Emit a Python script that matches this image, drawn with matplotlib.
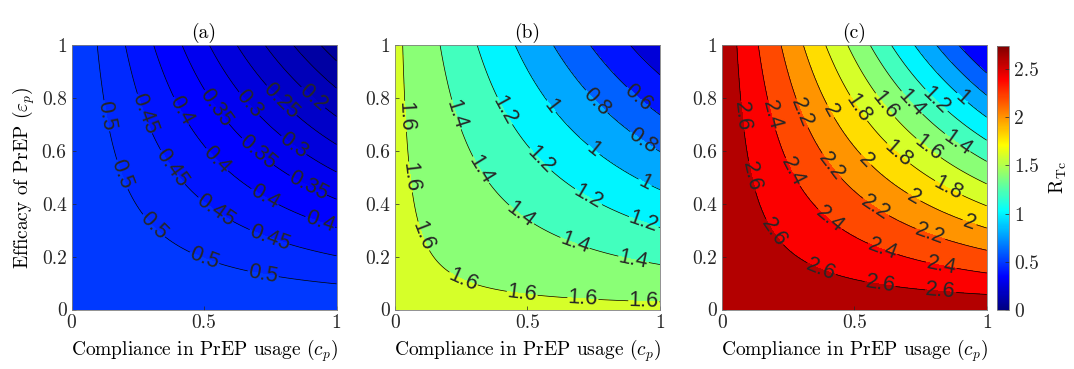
import numpy as np
import matplotlib
matplotlib.use("Agg")
import matplotlib.pyplot as plt
from matplotlib.colors import LinearSegmentedColormap, Normalize
from matplotlib.cm import ScalarMappable

# R_Tc contour values and the product c_p * eps_p at which each contour
# crosses the top edge (eps_p = 1); first/last entries
# are the corner values at c_p*eps_p = 0 and 1
prod_a = [0.0, 0.097, 0.203, 0.31, 0.417, 0.52, 0.624, 0.73, 0.837, 0.94, 1.0]
rtc_a = [0.546, 0.5, 0.45, 0.4, 0.35, 0.3, 0.25, 0.2, 0.15, 0.1, 0.075]

prod_b = [0.0, 0.029, 0.17, 0.31, 0.453, 0.597, 0.736, 0.887, 1.0]
rtc_b = [1.64, 1.6, 1.4, 1.2, 1.0, 0.8, 0.6, 0.4, 0.24]

prod_c = [0.0, 0.057, 0.138, 0.224, 0.308, 0.392, 0.475, 0.56, 0.64, 0.727, 0.81, 0.894, 1.0]
rtc_c = [2.74, 2.6, 2.4, 2.2, 2.0, 1.8, 1.6, 1.4, 1.2, 1.0, 0.8, 0.6, 0.35]

panel_titles = ["(a)", "(b)", "(c)"]
xticks = [0, 0.5, 1]
yticks = [0, 0.2, 0.4, 0.6, 0.8, 1]
cbar_ticks = [0, 0.5, 1, 1.5, 2, 2.5]
cbar_max = 2.74

plt.rcParams["font.family"] = "serif"
plt.rcParams["font.serif"] = ["cmr10", "DejaVu Serif"]
plt.rcParams["mathtext.fontset"] = "cm"
plt.rcParams["axes.formatter.use_mathtext"] = True

# MATLAB style jet
jet = LinearSegmentedColormap("mjet", {
    "red": [(0, 0, 0), (3/8, 0, 0), (5/8, 1, 1), (7/8, 1, 1), (1, 0.5, 0.5)],
    "green": [(0, 0, 0), (1/8, 0, 0), (3/8, 1, 1), (5/8, 1, 1), (7/8, 0, 0), (1, 0, 0)],
    "blue": [(0, 0.5, 0.5), (1/8, 1, 1), (3/8, 1, 1), (5/8, 0, 0), (1, 0, 0)],
}, N=256)
norm = Normalize(0, cbar_max)

fig = plt.figure(figsize=(10.74, 3.69), dpi=100)
W, H = 1074, 369
lefts = [71.5, 395, 721.7]
bottom = 1 - 309.5 / H
height = 264.5 / H
width = 265 / W

cp = np.linspace(0, 1, 401)
C, E = np.meshgrid(cp, cp)


def label_spots(cs, s0=0.27, d=0.23):
    spots = []
    for path in cs.get_paths():
        v = path.vertices
        if len(v) < 2:
            continue
        if v[0, 1] < v[-1, 1]:
            v = v[::-1]
        seg = np.hypot(np.diff(v[:, 0]), np.diff(v[:, 1]))
        s = np.concatenate([[0], np.cumsum(seg)])
        L = s[-1]
        t = s0
        while t < L - 0.05:
            spots.append((np.interp(t, s, v[:, 0]), np.interp(t, s, v[:, 1])))
            t += d
    return spots


panels = [(prod_a, rtc_a), (prod_b, rtc_b), (prod_c, rtc_c)]
for i, (prod, rtc) in enumerate(panels):
    ax = fig.add_axes([lefts[i] / W, bottom, width, height])
    Z = np.interp(C * E, prod, rtc)
    lev = sorted(rtc[1:-1])
    fill_lev = [rtc[-1] - 0.01] + lev + [rtc[0] + 0.01]
    band_cols = [jet(norm(v)) for v in [rtc[-1]] + lev]
    ax.contourf(C, E, Z, levels=fill_lev, colors=band_cols)
    cs = ax.contour(C, E, Z, levels=lev, colors="k", linewidths=0.5)
    spots = label_spots(cs)
    ax.clabel(cs, manual=spots, inline=True, inline_spacing=2,
              fontsize=15.5, fmt=lambda v: f"{v:g}")
    for t in cs.labelTexts:
        t.set_color("#262626")
        t.set_family("Liberation Sans")
        t.set_fontsize(15.5)
        t.set_clip_on(True)
    ax.set_xlim(0, 1)
    ax.set_ylim(0, 1)
    ax.set_xticks(xticks)
    ax.set_xticklabels(["0", "0.5", "1"])
    ax.set_yticks(yticks)
    ax.set_yticklabels(["0", "0.2", "0.4", "0.6", "0.8", "1"])
    ax.tick_params(direction="in", length=3, width=0.5, labelsize=14, colors="#262626")
    for sp in ax.spines.values():
        sp.set_color("0.5")
        sp.set_linewidth(0.6)
    ax.set_title(panel_titles[i], fontsize=14, pad=5)
    ax.set_xlabel(r"Compliance in PrEP usage $(c_p)$", fontsize=14, labelpad=4)
    if i == 0:
        ax.set_ylabel(r"Efficacy of PrEP $(\varepsilon_p)$", fontsize=14, labelpad=3)

cax = fig.add_axes([996.7 / W, 1 - 310 / H, 12.6 / W, 264 / H])
sm = ScalarMappable(norm=norm, cmap=jet)
cb = fig.colorbar(sm, cax=cax)
cb.set_ticks(cbar_ticks)
cb.set_ticklabels(["0", "0.5", "1", "1.5", "2", "2.5"])
cb.ax.tick_params(direction="in", length=3, width=0.5, labelsize=14, colors="#262626")
cb.outline.set_edgecolor("0.5")
cb.outline.set_linewidth(0.6)
cb.set_label(r"$\mathrm{R}_{\mathrm{Tc}}$", fontsize=14, labelpad=6)

fig.savefig("out.png", dpi=100)
